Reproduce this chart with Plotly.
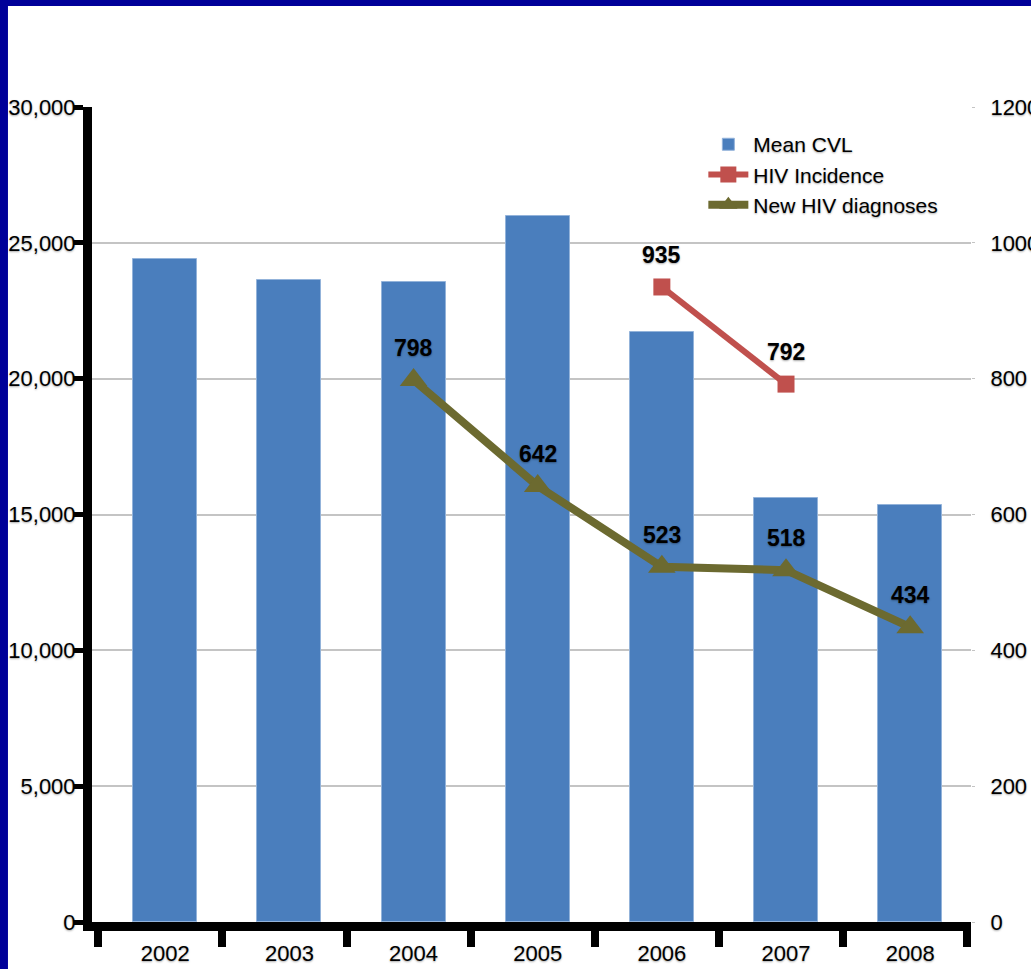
import plotly.graph_objects as go

# Yearly data
years = ["2002", "2003", "2004", "2005", "2006", "2007", "2008"]
mean_cvl = [24400, 23650, 23550, 26000, 21700, 15600, 15350]

incidence_years = ["2006", "2007"]
hiv_incidence = [935, 792]

diagnosis_years = ["2004", "2005", "2006", "2007", "2008"]
new_diagnoses = [798, 642, 523, 518, 434]

left_ticks = [0, 5000, 10000, 15000, 20000, 25000, 30000]
right_ticks = [0, 200, 400, 600, 800, 1000, 1200]

NAVY = "#000099"
BAR = "#4A7EBD"
RED = "#C0504D"
OLIVE = "#6C6A30"
FONT = "Liberation Sans, Arial, sans-serif"
SHADOW = "0px 1px 2px rgba(0,0,0,0.35)"

pos = {y: i for i, y in enumerate(years)}
inc_x = [pos[y] for y in incidence_years]
diag_x = [pos[y] for y in diagnosis_years]

fig = go.Figure()

fig.add_trace(go.Bar(
    x=list(range(len(years))), y=mean_cvl, name="Mean CVL",
    width=0.516,
    marker=dict(color=BAR, line=dict(color="#93B3DA", width=1)),
    yaxis="y",
))

fig.add_trace(go.Scatter(
    x=inc_x, y=hiv_incidence, name="HIV Incidence",
    mode="lines+markers",
    line=dict(color=RED, width=6),
    marker=dict(symbol="square", size=17, color=RED),
    yaxis="y2",
))

fig.add_trace(go.Scatter(
    x=diag_x, y=new_diagnoses, name="New HIV diagnoses",
    mode="lines+markers",
    line=dict(color=OLIVE, width=8),
    marker=dict(symbol="triangle-up", size=24, color=OLIVE),
    yaxis="y2",
))

# Value labels above each line point
for xs, vals in ((inc_x, hiv_incidence), (diag_x, new_diagnoses)):
    for xv, v in zip(xs, vals):
        fig.add_annotation(
            x=xv, y=v, xref="x", yref="y2", text=f"<b>{v}</b>",
            showarrow=False, yshift=32,
            font=dict(family=FONT, size=23, color="black", shadow=SHADOW),
        )

# White slide area inside the navy frame
fig.add_shape(
    type="rect", xref="paper", yref="paper", layer="below",
    x0=-0.0956, x1=1.3, y0=-0.2, y1=1.1239,
    fillcolor="white", line=dict(width=0),
)

n = len(years)
boundaries = [i + 0.461 for i in range(-1, n)]

fig.update_layout(
    width=1031, height=969, autosize=False,
    margin=dict(l=92, r=60, t=107, b=47),
    paper_bgcolor=NAVY, plot_bgcolor="white",
    font=dict(family=FONT, size=22, color="black", shadow=SHADOW),
    showlegend=True,
    legend=dict(
        x=0.6955, y=0.979, xanchor="left", yanchor="top",
        bgcolor="rgba(0,0,0,0)", font=dict(size=21),
        tracegroupgap=0, itemwidth=40,
    ),
    xaxis=dict(
        range=[-0.59, 6.49], automargin=False,
        tickmode="array", tickvals=list(range(n)), ticktext=years,
        ticks="", showgrid=False, zeroline=False,
        showline=True, linecolor="black", linewidth=9,
        ticklabelstandoff=4,
        minor=dict(tickmode="array", tickvals=boundaries, ticks="outside",
                   ticklen=16, tickwidth=8, tickcolor="black", showgrid=False),
    ),
    yaxis=dict(
        range=[0, 30000], tickmode="array", tickvals=left_ticks,
        automargin=False,
        tickformat=",", ticks="outside", ticklen=9, tickwidth=5,
        tickcolor="black", showline=True, linecolor="black", linewidth=9,
        showgrid=True, gridcolor="#C4C4C4", gridwidth=2,
        zeroline=False, ticklabelstandoff=-6,
    ),
    yaxis2=dict(
        range=[0, 1200], tickmode="array", tickvals=right_ticks,
        automargin=False,
        overlaying="y", side="right", showgrid=False, zeroline=False,
        showline=False, ticks="outside", ticklen=3, tickcolor="#C4C4C4",
        ticklabelstandoff=11,
    ),
    bargap=0,
)

fig.write_html("out.html")
